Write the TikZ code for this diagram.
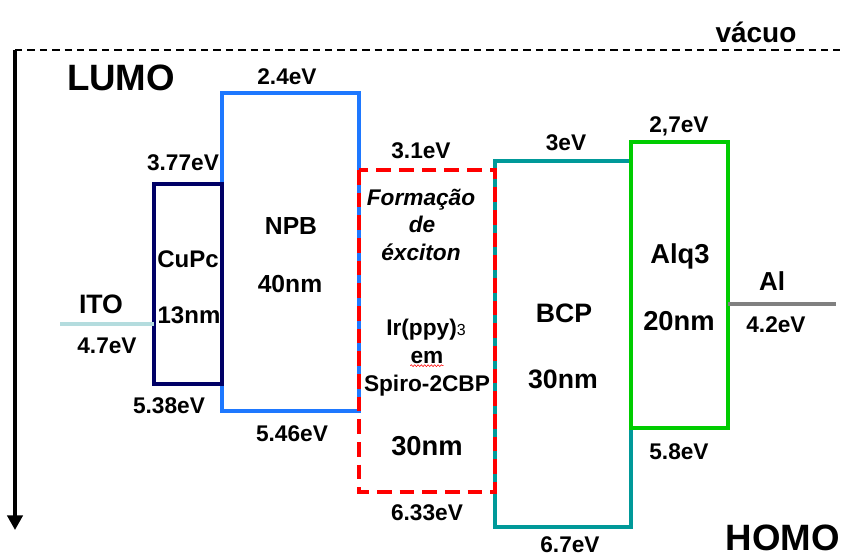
\documentclass[tikz,border=0pt]{standalone}
\usepackage{fontspec}
\setmainfont{Liberation Sans}
\usetikzlibrary{arrows.meta,decorations.pathmorphing}
\definecolor{navyc}{RGB}{0,0,102}
\definecolor{npbblue}{RGB}{30,120,255}
\definecolor{bcpteal}{RGB}{0,153,153}
\definecolor{alqgreen}{RGB}{0,204,0}
\definecolor{itocyan}{RGB}{180,220,222}
\definecolor{algray}{RGB}{128,128,128}
\begin{document}
\begin{tikzpicture}[x=0.75pt,y=-0.75pt,
  txt/.style={inner sep=0pt,anchor=base},
  ev/.style={txt,font=\fontsize{17}{20}\selectfont\bfseries},
  mid/.style={txt,font=\fontsize{18.5}{22}\selectfont\bfseries},
  big/.style={txt,font=\fontsize{20.5}{24}\selectfont\bfseries},
  ita/.style={txt,font=\fontsize{17}{20}\selectfont\bfseries\itshape},
  huge/.style={txt,font=\fontsize{27.5}{32}\selectfont\bfseries},
  layer/.style={line width=3pt},
  level/.style={line width=3pt}]
\useasboundingbox (0,0) rectangle (844,557);
% axes
\draw[line width=1.5pt,dash pattern=on 5.5pt off 3.8pt] (15,50) -- (840,50);
\draw[line width=2.5pt,-{Triangle[width=11.5pt,length=11pt]}] (15,50) -- (15,530);
% layers
\draw[layer,npbblue] (222,93) rectangle (359,411);
\draw[layer,bcpteal] (495,161) rectangle (631,527);
\draw[layer,red,dash pattern=on 11pt off 6pt] (359,170) rectangle (495,492);
\draw[layer,navyc] (154,184) rectangle (222,384);
\draw[layer,alqgreen] (631,142) rectangle (728,428);
\draw[level,itocyan] (60,324) -- (154,324);
\draw[level,algray] (728,304) -- (836,304);
% labels
\node[ev,font=\fontsize{21}{24}\selectfont\bfseries] (vac) at (756,42) {vácuo};
\node[huge] (lumo) at (121,90) {LUMO};
\node[huge] (homo) at (783,550) {HOMO};
\node[ev] (e24) at (287,84) {2.4eV};
\node[ev] (e377) at (183,170) {3.77eV};
\node[ev] (e31) at (421,158) {3.1eV};
\node[ev] (e3) at (566,150) {3eV};
\node[ev] (e27) at (679,132) {2,7eV};
\node[ev] (e47) at (107,353) {4.7eV};
\node[ev] (e42) at (776,332) {4.2eV};
\node[ev] (e538) at (169,413) {5.38eV};
\node[ev] (e546) at (292,441) {5.46eV};
\node[ev] (e633) at (427,520) {6.33eV};
\node[ev] (e67) at (570,552) {6.7eV};
\node[ev] (e58) at (679,459) {5.8eV};
\node[big,font=\fontsize{20}{24}\selectfont\bfseries] (ito) at (101,313) {ITO};
\node[big,font=\fontsize{19.5}{24}\selectfont\bfseries] (al) at (772,290) {Al};
\node[mid,font=\fontsize{18}{22}\selectfont\bfseries] (cupc) at (188,267) {CuPc};
\node[mid,font=\fontsize{18}{22}\selectfont\bfseries] (cupct) at (189,323) {13nm};
\node[mid] (npb) at (291,234) {NPB};
\node[mid] (npbt) at (290,292) {40nm};
\node[ita] (f1) at (421,205) {Formação};
\node[ita] (f2) at (422,232) {de};
\node[ita] (f3) at (421,260) {éxciton};
\node[ev] (ir) at (426,335) {Ir(ppy){\fontsize{12}{14}\selectfont\mdseries 3}};
\node[ev] (em) at (427,363) {em};
\draw[red,line width=0.4pt,decorate,decoration={snake,amplitude=0.7pt,segment length=2.5pt}]
  ([yshift=-2pt]em.base west) -- ([yshift=-2pt]em.base east);
\node[ev] (spiro) at (427,391) {Spiro-2CBP};
\node[big] (spt) at (427,455) {30nm};
\node[big,font=\fontsize{20}{24}\selectfont\bfseries] (bcp) at (564,322) {BCP};
\node[big,font=\fontsize{20}{24}\selectfont\bfseries] (bcpt) at (563,388) {30nm};
\node[big] (alq) at (680,263) {Alq3};
\node[big] (alqt) at (679,330) {20nm};
\end{tikzpicture}
\end{document}
